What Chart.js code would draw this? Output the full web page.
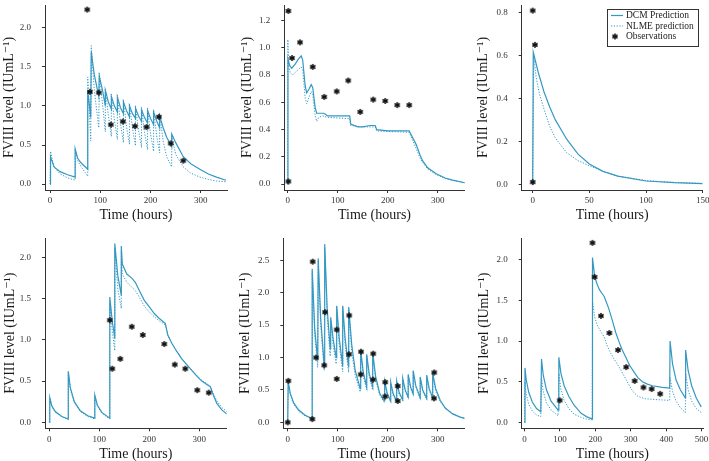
<!DOCTYPE html>
<html>
<head>
<meta charset="utf-8">
<script src="https://cdn.jsdelivr.net/npm/chart.js@4"></script>
<style>
  html, body { margin: 0; padding: 0; background: #fff; overflow: hidden; }
  #wrap { position: relative; width: 709px; height: 461px; }
  canvas { position: absolute; }
</style>
</head>
<body>
<div id="wrap">
  <canvas id="c1" width="236" height="230" style="left:0px;top:0px"></canvas>
  <canvas id="c2" width="234" height="230" style="left:236px;top:0px"></canvas>
  <canvas id="c3" width="239" height="230" style="left:470px;top:0px"></canvas>
  <canvas id="c4" width="236" height="231" style="left:0px;top:230px"></canvas>
  <canvas id="c5" width="234" height="231" style="left:236px;top:230px"></canvas>
  <canvas id="c6" width="239" height="231" style="left:470px;top:230px"></canvas>
</div>
<script>
// ---- data (time in hours, FVIII in IU/mL) ----

// panel 1
const dcm1T = [0,1,8,20,35,50,50,55,62,75,75,81,82,88,97,98,105,110,110,116,122,122,128,134,134,140,146,146,152,158,158,164,170,170,176,182,182,188,194,194,200,206,206,212,218,218,225,232,242,242,250,265,280,298,315,331,350];
const dcm1Y = [0,0.35,0.22,0.16,0.12,0.09,0.45,0.33,0.27,0.19,1.20,0.85,1.69,1.40,1.12,1.38,1.18,1.00,1.20,1.05,0.96,1.12,1.00,0.92,1.11,0.98,0.90,1.05,0.94,0.86,1.00,0.90,0.84,0.97,0.87,0.80,0.95,0.85,0.78,0.94,0.84,0.76,0.92,0.81,0.72,0.87,0.72,0.60,0.48,0.64,0.53,0.35,0.26,0.19,0.13,0.09,0.05];
const nlme1T = [0,1,8,20,35,50,50,55,62,75,75,81,82,88,97,98,104,110,110,116,122,122,128,134,134,140,146,146,152,158,158,164,170,170,176,182,182,188,194,194,200,206,206,212,218,218,225,232,242,242,250,265,280,298,315,331,350];
const nlme1Y = [0,0.42,0.22,0.13,0.08,0.05,0.45,0.30,0.22,0.10,1.37,0.55,1.77,1.20,0.72,1.42,1.05,0.67,1.22,0.88,0.61,1.15,0.82,0.57,1.14,0.78,0.53,1.08,0.74,0.51,1.03,0.71,0.49,1.00,0.69,0.47,0.98,0.66,0.44,0.97,0.64,0.42,0.95,0.62,0.40,0.90,0.55,0.35,0.22,0.62,0.38,0.22,0.14,0.09,0.06,0.04,0.03];
const obs1T = [74,79.5,97,121,145,169,192,216.5,240,265];
const obs1Y = [2.23,1.18,1.17,0.76,0.80,0.74,0.73,0.86,0.52,0.30];

// panel 2
const dcm2T = [0,0.5,4,8,15,22,27,30,35,38,43,47,50,55,58,65,72,76,80,100,124,126,140,150,165,175,178,200,243,250,257,265,270,280,297,315,330,354];
const dcm2Y = [0,0.92,0.87,0.85,0.88,0.92,0.94,0.91,0.72,0.67,0.70,0.73,0.71,0.56,0.52,0.52,0.52,0.51,0.50,0.50,0.50,0.44,0.42,0.42,0.43,0.43,0.40,0.39,0.39,0.34,0.29,0.21,0.17,0.12,0.076,0.045,0.03,0.01];
const nlme2T = [0,0.3,2,5,10,18,27,30,35,38,43,47,50,55,58,62,70,80,124,126,150,175,178,243,250,257,265,270,280,297,315,330,354];
const nlme2Y = [0,1.06,0.86,0.82,0.80,0.83,0.86,0.84,0.63,0.59,0.64,0.68,0.66,0.50,0.46,0.49,0.50,0.49,0.48,0.43,0.42,0.42,0.39,0.38,0.32,0.26,0.19,0.16,0.11,0.07,0.04,0.027,0.01];
const obs2T = [1.3,1.3,8.7,24.7,50,73,98,121,145,171,195,219,243];
const obs2Y = [1.27,0.02,0.925,1.04,0.86,0.64,0.68,0.76,0.53,0.62,0.61,0.58,0.58];

// panel 3
const dcm3T = [0,0.5,5,10,15,20,30,40,50,62,75,100,125,150];
const dcm3Y = [0,0.615,0.52,0.43,0.36,0.30,0.21,0.14,0.094,0.06,0.038,0.015,0.007,0.003];
const nlme3T = [0,1,3,6,10,15,20,30,40,50,62,75,100,125,150];
const nlme3Y = [0,0.60,0.50,0.42,0.35,0.27,0.215,0.147,0.11,0.086,0.06,0.038,0.017,0.008,0.004];
const obs3T = [0,2,0];
const obs3Y = [0.81,0.65,0.01];

// panel 4
const dcm4T = [0,1,5,12,25,38,38,42,50,62,77,91,91,96,105,121,121,126,131,131,137,144,144,146,155,165,172,180,190,200,210,220,228,232,237,245,255,265,275,285,295,305,315,322,328,335,345,355];
const dcm4Y = [0,0.30,0.20,0.13,0.07,0.04,0.62,0.42,0.25,0.14,0.08,0.05,0.33,0.21,0.12,0.05,1.52,1.22,1.02,2.17,1.78,1.54,2.14,1.92,1.80,1.75,1.70,1.60,1.48,1.40,1.32,1.26,1.22,1.20,1.06,0.96,0.86,0.77,0.70,0.63,0.56,0.50,0.46,0.43,0.33,0.23,0.15,0.10];
const nlme4T = [0,1,5,12,25,38,38,42,50,62,77,91,91,96,105,121,121,126,131,131,137,144,144,146,155,165,172,180,190,200,210,220,228,232,237,245,255,265,275,285,295,305,315,322,328,335,345,355];
const nlme4Y = [0,0.29,0.19,0.12,0.07,0.03,0.60,0.40,0.24,0.13,0.07,0.04,0.32,0.20,0.11,0.04,1.45,1.10,0.87,2.12,1.62,1.38,2.08,1.80,1.70,1.64,1.60,1.52,1.41,1.34,1.28,1.23,1.20,1.18,1.06,0.96,0.86,0.77,0.70,0.63,0.57,0.51,0.47,0.44,0.35,0.26,0.18,0.13];
const obs4T = [121,126,142,165,187,230,251,272,296,319];
const obs4Y = [1.24,0.65,0.77,1.16,1.06,0.95,0.70,0.65,0.39,0.36];

// panel 5
const dcm5T = [0,1,5,12,22,35,49,49,54,60,61,66,73,74,79,85,86,91,97,98,103,110,110,115,122,122,128,135,145,146,151,158,158,163,170,170,176,184,193,194,199,206,206,211,218,218,223,230,230,235,241,241,246,251,251,256,265,265,270,278,278,283,290,290,296,305,315,330,345,354];
const dcm5Y = [0,0.63,0.45,0.30,0.19,0.11,0.06,2.37,1.45,0.95,2.53,1.60,0.88,2.75,1.75,1.14,1.62,1.28,1.00,1.80,1.30,0.87,1.80,1.28,0.85,1.78,1.20,0.80,0.52,1.12,0.78,0.55,1.05,0.75,0.55,1.08,0.70,0.45,0.33,0.63,0.45,0.33,0.62,0.44,0.33,0.64,0.46,0.35,0.68,0.50,0.39,0.74,0.54,0.44,0.80,0.57,0.38,0.70,0.50,0.37,0.73,0.52,0.38,0.76,0.52,0.34,0.22,0.13,0.08,0.06];
const nlme5T = [0,1,5,12,22,35,49,49,54,60,61,66,73,74,79,85,86,91,97,98,103,110,110,115,122,122,128,135,145,146,151,158,158,163,170,170,176,184,193,194,199,206,206,211,218,218,223,230,230,235,241,241,246,251,251,256,265,265,270,278,278,283,290,290,296,305,315,330,345,354];
const nlme5Y = [0,0.60,0.42,0.28,0.17,0.10,0.05,2.33,1.35,0.85,2.50,1.50,0.80,2.70,1.62,1.02,1.58,1.18,0.90,1.78,1.20,0.78,1.78,1.18,0.77,1.75,1.10,0.72,0.47,1.08,0.72,0.50,1.02,0.70,0.50,1.05,0.65,0.42,0.31,0.60,0.42,0.31,0.60,0.41,0.31,0.62,0.43,0.33,0.66,0.48,0.37,0.72,0.52,0.42,0.78,0.55,0.36,0.68,0.48,0.35,0.71,0.50,0.36,0.74,0.48,0.32,0.22,0.13,0.08,0.06];
const obs5T = [0,1.3,49.3,50,56.7,74.7,73,98,98,123,122.7,146.7,146,171,170.7,195,195,220,220,293,292.7];
const obs5Y = [0.0,0.64,0.05,2.48,1.0,1.70,0.88,1.43,0.67,1.65,1.05,1.09,0.74,1.06,0.66,0.62,0.40,0.56,0.33,0.77,0.37];

// panel 6
const dcm6T = [0,1.4,5,12,22,34,46,48,53,62,75,95,97,103,112,125,140,160,175,191,192,198,205,212,220,225,232,238,249,258,267,276,286,297,309,320,333,347,361,389,410,411,418,428,440,454,455,462,472,485,499];
const dcm6Y = [0,0.67,0.52,0.37,0.25,0.17,0.13,0.78,0.58,0.40,0.26,0.15,0.80,0.60,0.45,0.32,0.21,0.11,0.07,0.04,2.03,1.80,1.70,1.63,1.58,1.55,1.47,1.40,1.24,1.10,0.99,0.89,0.80,0.70,0.62,0.55,0.50,0.47,0.45,0.43,0.42,1.00,0.72,0.52,0.40,0.30,0.89,0.64,0.45,0.30,0.19];
const nlme6T = [0,1,5,12,22,34,46,48,53,62,75,95,97,103,112,125,140,160,175,191,192,198,205,215,225,232,240,250,260,270,280,290,300,310,320,340,370,410,411,418,428,440,454,455,462,472,485,499];
const nlme6Y = [0,0.50,0.35,0.22,0.14,0.09,0.07,0.55,0.38,0.24,0.15,0.08,0.60,0.40,0.27,0.17,0.10,0.06,0.04,0.03,1.50,1.30,1.20,1.12,1.05,0.96,0.88,0.80,0.73,0.66,0.58,0.50,0.42,0.36,0.32,0.29,0.28,0.27,0.55,0.38,0.26,0.18,0.12,0.60,0.40,0.26,0.17,0.12];
const obs6T = [99.5,192,198,216,239.5,264,287,311,336,359,383];
const obs6Y = [0.27,2.21,1.79,1.31,1.10,0.89,0.68,0.51,0.43,0.41,0.35];

// tick values
const xTicks1 = [0,100,200,300];
const xTicks3 = [0,50,100,150];
const xTicks6 = [0,100,200,300,400,500];
const yTicks1 = [0,0.5,1.0,1.5,2.0];
const yTicks2 = [0,0.2,0.4,0.6,0.8,1.0,1.2];
const yTicks3 = [0,0.2,0.4,0.6,0.8];
const yTicks5 = [0,0.5,1.0,1.5,2.0,2.5];

// ---- drawing ----
const LINE = '#3598c2';
const FONT = "'Liberation Serif', 'DejaVu Serif', serif";

// six-spoke asterisk used for observations
function makeStar() {
  const c = document.createElement('canvas');
  c.width = 8; c.height = 8;
  const g = c.getContext('2d');
  g.strokeStyle = '#111';
  g.lineWidth = 1.5;
  for (let k = 0; k < 3; k++) {
    const a = Math.PI / 2 + k * Math.PI / 3;
    g.beginPath();
    g.moveTo(4 + 3 * Math.cos(a), 4 + 3 * Math.sin(a));
    g.lineTo(4 - 3 * Math.cos(a), 4 - 3 * Math.sin(a));
    g.stroke();
  }
  return c;
}
const STAR = makeStar();

const pts = (T, Y) => T.map((t, i) => ({ x: t, y: Y[i] }));

// legend drawn inside the top-right panel
const legendBox = {
  id: 'legendBox',
  afterDraw(chart) {
    const g = chart.ctx;
    g.save();
    g.fillStyle = '#fff';
    g.fillRect(137, 9, 91, 37);
    g.strokeStyle = '#333';
    g.lineWidth = 1;
    g.strokeRect(137.5, 9.5, 91, 37);
    g.strokeStyle = LINE;
    g.lineWidth = 1.2;
    g.beginPath(); g.moveTo(141, 15.5); g.lineTo(153, 15.5); g.stroke();
    g.lineWidth = 1;
    g.setLineDash([1.2, 1.6]);
    g.beginPath(); g.moveTo(141, 26); g.lineTo(153, 26); g.stroke();
    g.setLineDash([]);
    g.drawImage(STAR, 145 - 4, 36.5 - 4);
    g.fillStyle = '#222';
    g.font = '9.5px ' + FONT;
    g.textBaseline = 'middle';
    g.fillText('DCM Prediction', 156, 15.5);
    g.fillText('NLME prediction', 156, 26);
    g.fillText('Observations', 156, 36.5);
    g.restore();
  }
};

function panel(id, p) {
  const fix = (key, size) => s => {
    s[key] = size;
    s.paddingLeft = 0; s.paddingRight = 0; s.paddingTop = 0; s.paddingBottom = 0;
  };
  const tickFont = { family: FONT, size: 9 };
  const titleFont = { family: FONT, size: 14, lineHeight: 1 };
  return new Chart(document.getElementById(id), {
    type: 'line',
    data: {
      datasets: [
        { label: 'DCM Prediction', data: pts(p.dcmT, p.dcmY), borderColor: LINE, borderWidth: 1.2, pointRadius: 0, order: 1 },
        { label: 'NLME prediction', data: pts(p.nlmeT, p.nlmeY), borderColor: LINE, borderWidth: 1, borderDash: [1.2, 1.6], pointRadius: 0, order: 2 },
        { label: 'Observations', data: pts(p.obsT, p.obsY), showLine: false, pointStyle: STAR, pointRadius: 4, order: 0, clip: false }
      ]
    },
    options: {
      responsive: false,
      animation: false,
      events: [],
      layout: { padding: { left: 0, top: p.padTop, right: p.padRight, bottom: 0 } },
      plugins: { legend: { display: false }, tooltip: { enabled: false } },
      scales: {
        x: {
          type: 'linear', min: p.xMin, max: p.xMax,
          afterBuildTicks: s => { s.ticks = p.xTicks.map(v => ({ value: v })); },
          afterFit: fix('height', p.xH),
          grid: { drawOnChartArea: false, tickLength: 3, color: '#333' },
          border: { color: '#333', width: 1 },
          ticks: { font: tickFont, color: '#333', padding: 2.5, maxRotation: 0, autoSkip: false, callback: v => String(v) },
          title: { display: true, text: 'Time (hours)', font: titleFont, color: '#1a1a1a', padding: { top: 0, bottom: p.xTitlePad } }
        },
        y: {
          type: 'linear', min: p.yMin, max: p.yMax,
          afterBuildTicks: s => { s.ticks = p.yTicks.map(v => ({ value: v })); },
          afterFit: fix('width', p.yW),
          grid: { drawOnChartArea: false, tickLength: 3, color: '#333' },
          border: { color: '#333', width: 1 },
          ticks: { font: tickFont, color: '#333', padding: 11, autoSkip: false, callback: v => v.toFixed(1) },
          title: { display: true, text: 'FVIII level (IUmL⁻¹)', font: titleFont, color: '#1a1a1a', padding: { top: p.yTitlePad, bottom: 0 } }
        }
      }
    },
    plugins: p.legend ? [legendBox] : []
  });
}

panel('c1', { dcmT: dcm1T, dcmY: dcm1Y, nlmeT: nlme1T, nlmeY: nlme1Y, obsT: obs1T, obsY: obs1Y,
  xTicks: xTicks1, yTicks: yTicks1, xMin: -10, xMax: 352, yMin: -0.075, yMax: 2.289,
  yW: 45, xH: 40, padTop: 0, padRight: 9, xTitlePad: 8, yTitlePad: 2.5 });
panel('c2', { dcmT: dcm2T, dcmY: dcm2Y, nlmeT: nlme2T, nlmeY: nlme2Y, obsT: obs2T, obsY: obs2Y,
  xTicks: xTicks1, yTicks: yTicks2, xMin: -6.8, xMax: 354, yMin: -0.043, yMax: 1.314,
  yW: 48.3, xH: 40, padTop: 0, padRight: 5.3, xTitlePad: 8, yTitlePad: 4.7 });
panel('c3', { dcmT: dcm3T, dcmY: dcm3Y, nlmeT: nlme3T, nlmeY: nlme3Y, obsT: obs3T, obsY: obs3Y,
  xTicks: xTicks3, yTicks: yTicks3, xMin: -9.7, xMax: 150, yMin: -0.027, yMax: 0.836,
  yW: 51.7, xH: 40, padTop: 0, padRight: 6.3, xTitlePad: 8, yTitlePad: 6.5, legend: true });
panel('c4', { dcmT: dcm4T, dcmY: dcm4Y, nlmeT: nlme4T, nlmeY: nlme4Y, obsT: obs4T, obsY: obs4Y,
  xTicks: xTicks1, yTicks: yTicks1, xMin: -8.6, xMax: 354.8, yMin: -0.073, yMax: 2.237,
  yW: 45, xH: 32.7, padTop: 8, padRight: 9.3, xTitlePad: 0, yTitlePad: 3 });
panel('c5', { dcmT: dcm5T, dcmY: dcm5Y, nlmeT: nlme5T, nlmeY: nlme5Y, obsT: obs5T, obsY: obs5Y,
  xTicks: xTicks1, yTicks: yTicks5, xMin: -8.8, xMax: 354, yMin: -0.092, yMax: 2.84,
  yW: 47.3, xH: 32.7, padTop: 8.3, padRight: 5.3, xTitlePad: 0, yTitlePad: 2.7 });
panel('c6', { dcmT: dcm6T, dcmY: dcm6Y, nlmeT: nlme6T, nlmeY: nlme6Y, obsT: obs6T, obsY: obs6Y,
  xTicks: xTicks6, yTicks: yTicks1, xMin: -7.9, xMax: 504, yMin: -0.074, yMax: 2.266,
  yW: 51.7, xH: 32.7, padTop: 8.3, padRight: 6, xTitlePad: 0, yTitlePad: 7.5 });
</script>
</body>
</html>
